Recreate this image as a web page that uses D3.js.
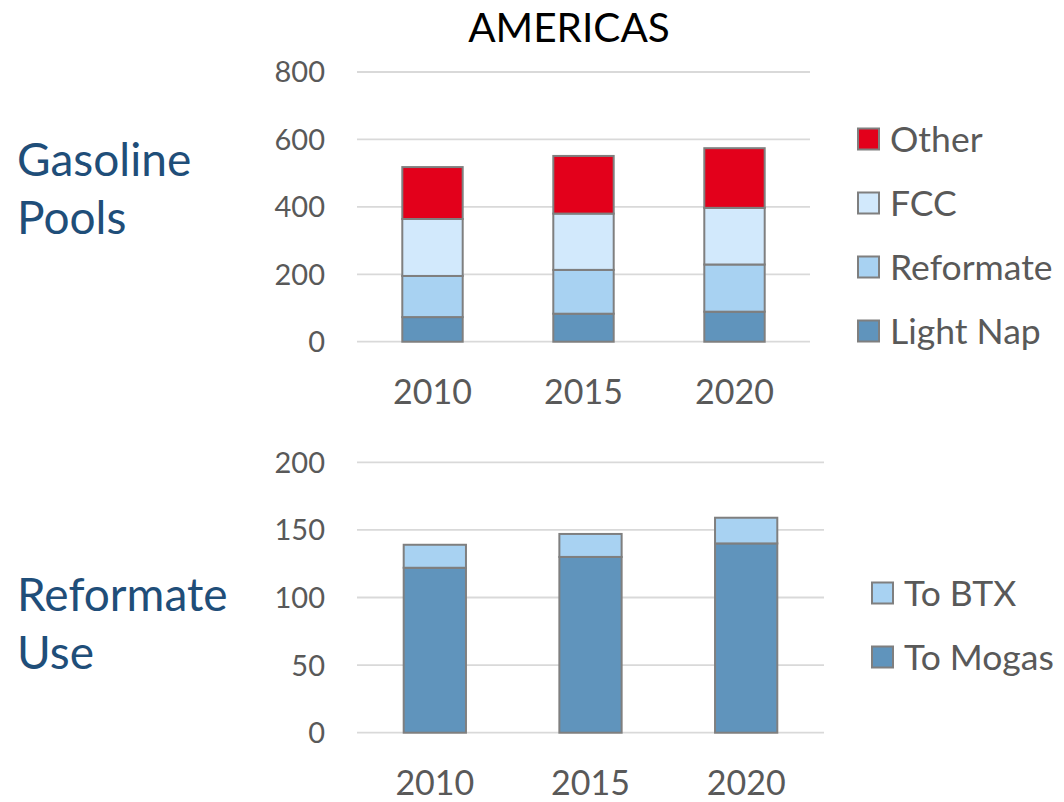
<!DOCTYPE html>
<html>
<head>
<meta charset="utf-8">
<script src="https://cdn.jsdelivr.net/npm/d3@7"></script>
<style>
  body { margin: 0; background: #fff; }
  svg { display: block; font-family: Lato, "Open Sans", sans-serif; }
</style>
</head>
<body>
<svg id="chart" width="1064" height="802"></svg>
<script>
// data
const years = ["2010", "2015", "2020"];

// gasoline pool (stack bottom -> top)
const poolKeys   = ["Light Nap", "Reformate", "FCC", "Other"];
const lightNap   = [73, 83, 89];
const reformate  = [122, 130, 140];
const fcc        = [169, 167, 168];
const other      = [154, 171, 177];
const poolTicks  = [0, 200, 400, 600, 800];

// reformate use (stack bottom -> top)
const useKeys    = ["To Mogas", "To BTX"];
const toMogas    = [122, 130, 140];
const toBTX      = [17, 17, 19];
const useTicks   = [0, 50, 100, 150, 200];

const colors = {
  "Light Nap": "#6094bc",
  "Reformate": "#a8d2f2",
  "FCC":       "#d2e9fc",
  "Other":     "#e3001b",
  "To Mogas":  "#6094bc",
  "To BTX":    "#a8d2f2"
};

const svg = d3.select("#chart");
const tickColor = "#595959";

// title
svg.append("text")
  .attr("x", 569).attr("y", 41.5)
  .attr("text-anchor", "middle")
  .attr("font-size", 40.5)
  .attr("fill", "#000")
  .text("AMERICAS");

// side labels
function sideLabel(lines, y0) {
  const t = svg.append("text")
    .attr("x", 17).attr("y", y0)
    .attr("font-size", 46)
    .attr("fill", "#1f4e79");
  lines.forEach((s, i) => {
    t.append("tspan").attr("x", 17).attr("dy", i ? 58 : 0).text(s);
  });
}
sideLabel(["Gasoline", "Pools"], 176);
sideLabel(["Reformate", "Use"], 611);

function panel(cfg) {
  const rows = years.map((yr, i) => {
    const o = { year: yr };
    cfg.keys.forEach((k, j) => o[k] = cfg.series[j][i]);
    return o;
  });
  const stacked = d3.stack().keys(cfg.keys)(rows);

  const x = d3.scaleBand().domain(years)
    .range([cfg.x0, cfg.x1]).paddingInner(0.6).paddingOuter(0.3);
  const y = d3.scaleLinear().domain(d3.extent(cfg.ticks)).range([cfg.yb, cfg.yt]);

  const g = svg.append("g");

  // gridlines
  g.selectAll("line.grid").data(cfg.ticks).join("line")
    .attr("class", "grid")
    .attr("x1", cfg.x0).attr("x2", cfg.x1)
    .attr("y1", d => y(d)).attr("y2", d => y(d))
    .attr("stroke", "#d9d9d9").attr("stroke-width", 1.8);

  // y tick labels
  g.selectAll("text.ytick").data(cfg.ticks).join("text")
    .attr("class", "ytick")
    .attr("x", 325).attr("y", d => y(d))
    .attr("dy", "0.36em")
    .attr("text-anchor", "end")
    .attr("font-size", 29)
    .attr("fill", tickColor)
    .text(d => d);

  // bars
  g.selectAll("g.layer").data(stacked).join("g")
    .attr("class", "layer")
    .attr("fill", d => colors[d.key])
    .selectAll("rect").data(d => d).join("rect")
      .attr("x", d => x(d.data.year))
      .attr("width", x.bandwidth())
      .attr("y", d => y(d[1]))
      .attr("height", d => y(d[0]) - y(d[1]))
      .attr("stroke", "#7f7f7f").attr("stroke-width", 2);

  // x labels
  g.selectAll("text.xtick").data(years).join("text")
    .attr("class", "xtick")
    .attr("x", d => x(d) + x.bandwidth() / 2)
    .attr("y", cfg.xLabelY)
    .attr("text-anchor", "middle")
    .attr("font-size", 34)
    .attr("fill", tickColor)
    .text(d => d);

  // legend (top entry = last key)
  const leg = g.selectAll("g.leg").data(cfg.keys.slice().reverse()).join("g")
    .attr("class", "leg")
    .attr("transform", (d, i) => `translate(${cfg.legX},${cfg.legY + i * 64})`);
  leg.append("rect")
    .attr("x", 0).attr("y", -10.5).attr("width", 21).attr("height", 21)
    .attr("fill", d => colors[d])
    .attr("stroke", "#7f7f7f").attr("stroke-width", 2);
  leg.append("text")
    .attr("x", 32).attr("y", 0).attr("dy", "0.36em")
    .attr("font-size", 35.5)
    .attr("fill", tickColor)
    .text(d => d);
}

panel({
  keys: poolKeys,
  series: [lightNap, reformate, fcc, other],
  ticks: poolTicks,
  x0: 357, x1: 810, yb: 341.7, yt: 72,
  xLabelY: 404,
  legX: 858, legY: 139
});

panel({
  keys: useKeys,
  series: [toMogas, toBTX],
  ticks: useTicks,
  x0: 357, x1: 824, yb: 732.7, yt: 462.3,
  xLabelY: 795,
  legX: 872, legY: 593
});
</script>
</body>
</html>
